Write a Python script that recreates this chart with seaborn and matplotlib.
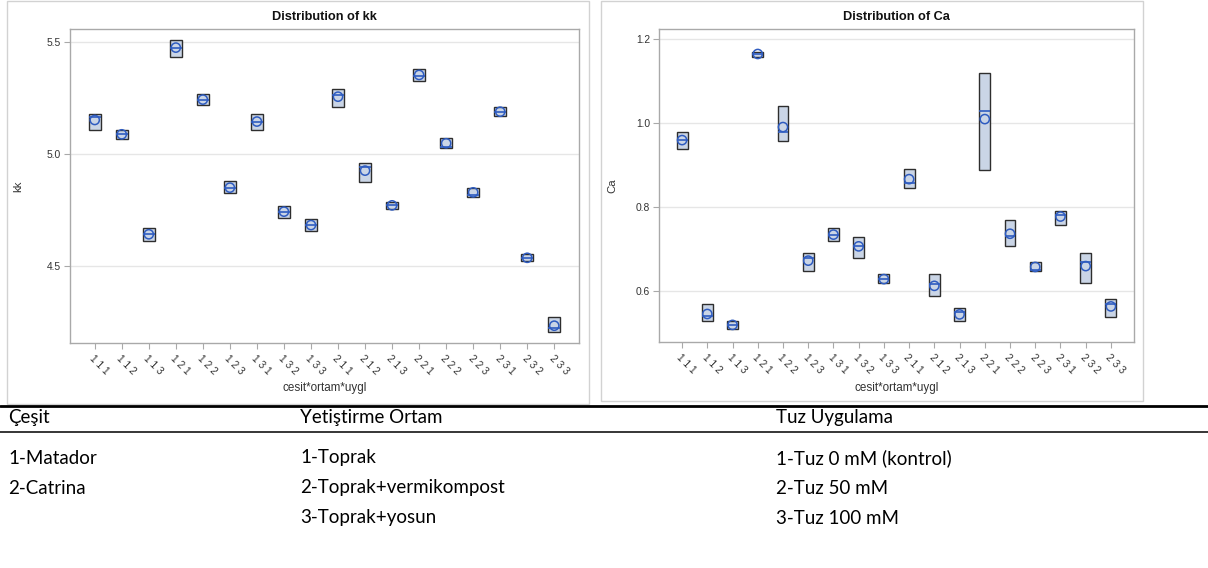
import numpy as np
import matplotlib
matplotlib.use("Agg")
import matplotlib.pyplot as plt
import seaborn as sns
from matplotlib.patches import Rectangle
from matplotlib.lines import Line2D

# ---------------- data ----------------
groups = ["1 1 1", "1 1 2", "1 1 3", "1 2 1", "1 2 2", "1 2 3", "1 3 1", "1 3 2", "1 3 3",
          "2 1 1", "2 1 2", "2 1 3", "2 2 1", "2 2 2", "2 2 3", "2 3 1", "2 3 2", "2 3 3"]

kk_low = [5.110, 5.068, 4.614, 5.436, 5.219, 4.826, 5.110, 4.717, 4.658,
          5.210, 4.878, 4.756, 5.329, 5.027, 4.808, 5.170, 4.523, 4.205]
kk_high = [5.180, 5.110, 4.670, 5.512, 5.271, 4.881, 5.180, 4.769, 4.712,
           5.290, 4.962, 4.788, 5.381, 5.071, 4.848, 5.211, 4.554, 4.275]
kk_median = [5.166, 5.089, 4.643, 5.476, 5.244, 4.851, 5.146, 4.744, 4.684,
             5.265, 4.945, 4.772, 5.350, 5.034, 4.818, 5.190, 4.538, 4.226]
kk_mean = [5.153, 5.089, 4.643, 5.476, 5.244, 4.851, 5.146, 4.744, 4.684,
           5.257, 4.927, 4.772, 5.354, 5.049, 4.830, 5.190, 4.538, 4.235]

ca_low = [0.938, 0.529, 0.510, 1.159, 0.959, 0.649, 0.719, 0.679, 0.619,
          0.847, 0.589, 0.529, 0.889, 0.709, 0.649, 0.759, 0.619, 0.539]
ca_high = [0.979, 0.570, 0.530, 1.170, 1.040, 0.690, 0.750, 0.730, 0.640,
           0.890, 0.640, 0.560, 1.119, 0.770, 0.670, 0.790, 0.690, 0.581]
ca_median = [0.960, 0.540, 0.520, 1.165, 0.979, 0.679, 0.735, 0.709, 0.629,
             0.857, 0.617, 0.550, 1.029, 0.731, 0.651, 0.782, 0.670, 0.569]
ca_mean = [0.960, 0.546, 0.520, 1.165, 0.991, 0.673, 0.735, 0.707, 0.629,
           0.867, 0.613, 0.545, 1.010, 0.737, 0.658, 0.778, 0.660, 0.564]

kk_ticks = [4.5, 5.0, 5.5]
ca_ticks = [0.6, 0.8, 1.0, 1.2]

table_headers = ["Çeşit", "Yetiştirme Ortam", "Tuz Uygulama"]
cesit_items = ["1-Matador", "2-Catrina"]
ortam_items = ["1-Toprak", "2-Toprak+vermikompost", "3-Toprak+yosun"]
tuz_items = ["1-Tuz 0 mM (kontrol)", "2-Tuz 50 mM", "3-Tuz 100 mM"]

# ---------------- style ----------------
sns.set_theme(style="white")
plt.rcParams["font.family"] = ["Liberation Sans", "DejaVu Sans"]

W, H = 1208, 568
fig = plt.figure(figsize=(W / 100, H / 100), dpi=100)


def fx(x):
    return x / W


def fy(y):
    return 1 - y / H


BOX_FILL = "#CAD5E6"
BOX_EDGE = "#2E2E2E"
BLUE = "#2F5CC0"
SPINE = "#A9A9A9"
GRID = "#E6E6E6"
TXT = "#333333"


def panel(x0, y0, x1, y1, title, ylabel, low, high, med, mean, ticks, ylim, frame):
    ax = fig.add_axes([fx(x0), fy(y1), (x1 - x0) / W, (y1 - y0) / H])
    pos = np.arange(len(groups))
    stats = []
    for lo, hi, md in zip(low, high, med):
        stats.append(dict(med=md, q1=lo, q3=hi, whislo=lo, whishi=hi, fliers=[]))
    ax.bxp(stats, positions=pos, widths=0.43, patch_artist=True,
           showcaps=False, showfliers=False, manage_ticks=False,
           boxprops=dict(facecolor=BOX_FILL, edgecolor=BOX_EDGE, linewidth=1.0),
           medianprops=dict(color=BLUE, linewidth=1.2),
           whiskerprops=dict(linewidth=0), zorder=3)
    sns.scatterplot(x=pos, y=mean, ax=ax, marker="o", s=44, facecolor="none",
                    edgecolor=BLUE, linewidth=1.1, zorder=4, legend=False)
    ax.set_xlim(-0.915, len(groups) - 1 + 0.915)
    ax.set_ylim(*ylim)
    ax.set_yticks(ticks)
    ax.set_yticklabels([f"{t:.1f}" for t in ticks])
    ax.set_xticks(pos)
    ax.set_xticklabels(groups, rotation=-45, ha="left", va="top", rotation_mode="anchor")
    ax.tick_params(axis="both", colors=SPINE, labelcolor=TXT, labelsize=7.4,
                   length=4.5, width=0.8, direction="out", bottom=True, left=True)
    ax.tick_params(axis="x", pad=3)
    ax.tick_params(axis="y", pad=2)
    ax.grid(axis="y", color=GRID, linewidth=1.0)
    ax.set_axisbelow(True)
    for s in ax.spines.values():
        s.set_color(SPINE)
        s.set_linewidth(1.0)
    ax.set_ylabel(ylabel, fontsize=8.2, color=TXT)
    ax.yaxis.set_label_coords(-(x0 - frame[0] - 16) / (x1 - x0), 0.5)
    ax.set_xlabel("cesit*ortam*uygl", fontsize=8.4, color=TXT)
    ax.xaxis.label.set_va("center")
    ax.xaxis.set_label_coords(0.5, -(388 - y1) / (y1 - y0))
    fig.text(fx((x0 + x1) / 2), fy(16.5), title, ha="center", va="center",
             fontsize=9.2, fontweight="bold", color="#111111")
    fig.add_artist(Rectangle((fx(frame[0]), fy(frame[3])), (frame[2] - frame[0]) / W,
                             (frame[3] - frame[1]) / H, transform=fig.transFigure,
                             fill=False, edgecolor="#D2D2D2", linewidth=1.0))
    return ax


panel(70, 29, 579, 342.5, "Distribution of kk", "kk", kk_low, kk_high, kk_median, kk_mean,
      kk_ticks, (4.160, 5.559), (7, 1, 589, 404))
panel(659, 29, 1134, 341.7, "Distribution of Ca", "Ca", ca_low, ca_high, ca_median, ca_mean,
      ca_ticks, (0.480, 1.2245), (601, 1, 1143, 401))

# ---------------- table below ----------------
fig.add_artist(Line2D([0, 1], [fy(405.5), fy(405.5)], transform=fig.transFigure,
                      color="black", linewidth=2.0))
fig.add_artist(Line2D([0, 1], [fy(432), fy(432)], transform=fig.transFigure,
                      color="black", linewidth=1.1))

col_x = [8, 300, 776]
tfont = dict(fontsize=13.5, color="black", family=["Lato", "DejaVu Sans"], va="center", ha="left")
for cx, h in zip(col_x, table_headers):
    fig.text(fx(cx), fy(418), h, **tfont)
row_y = [458, 488, 518]
for items, cx in zip([cesit_items, ortam_items, tuz_items], col_x):
    for it, ry in zip(items, row_y):
        fig.text(fx(cx), fy(ry), it, **tfont)

fig.savefig("out.png", dpi=100, facecolor="white")
